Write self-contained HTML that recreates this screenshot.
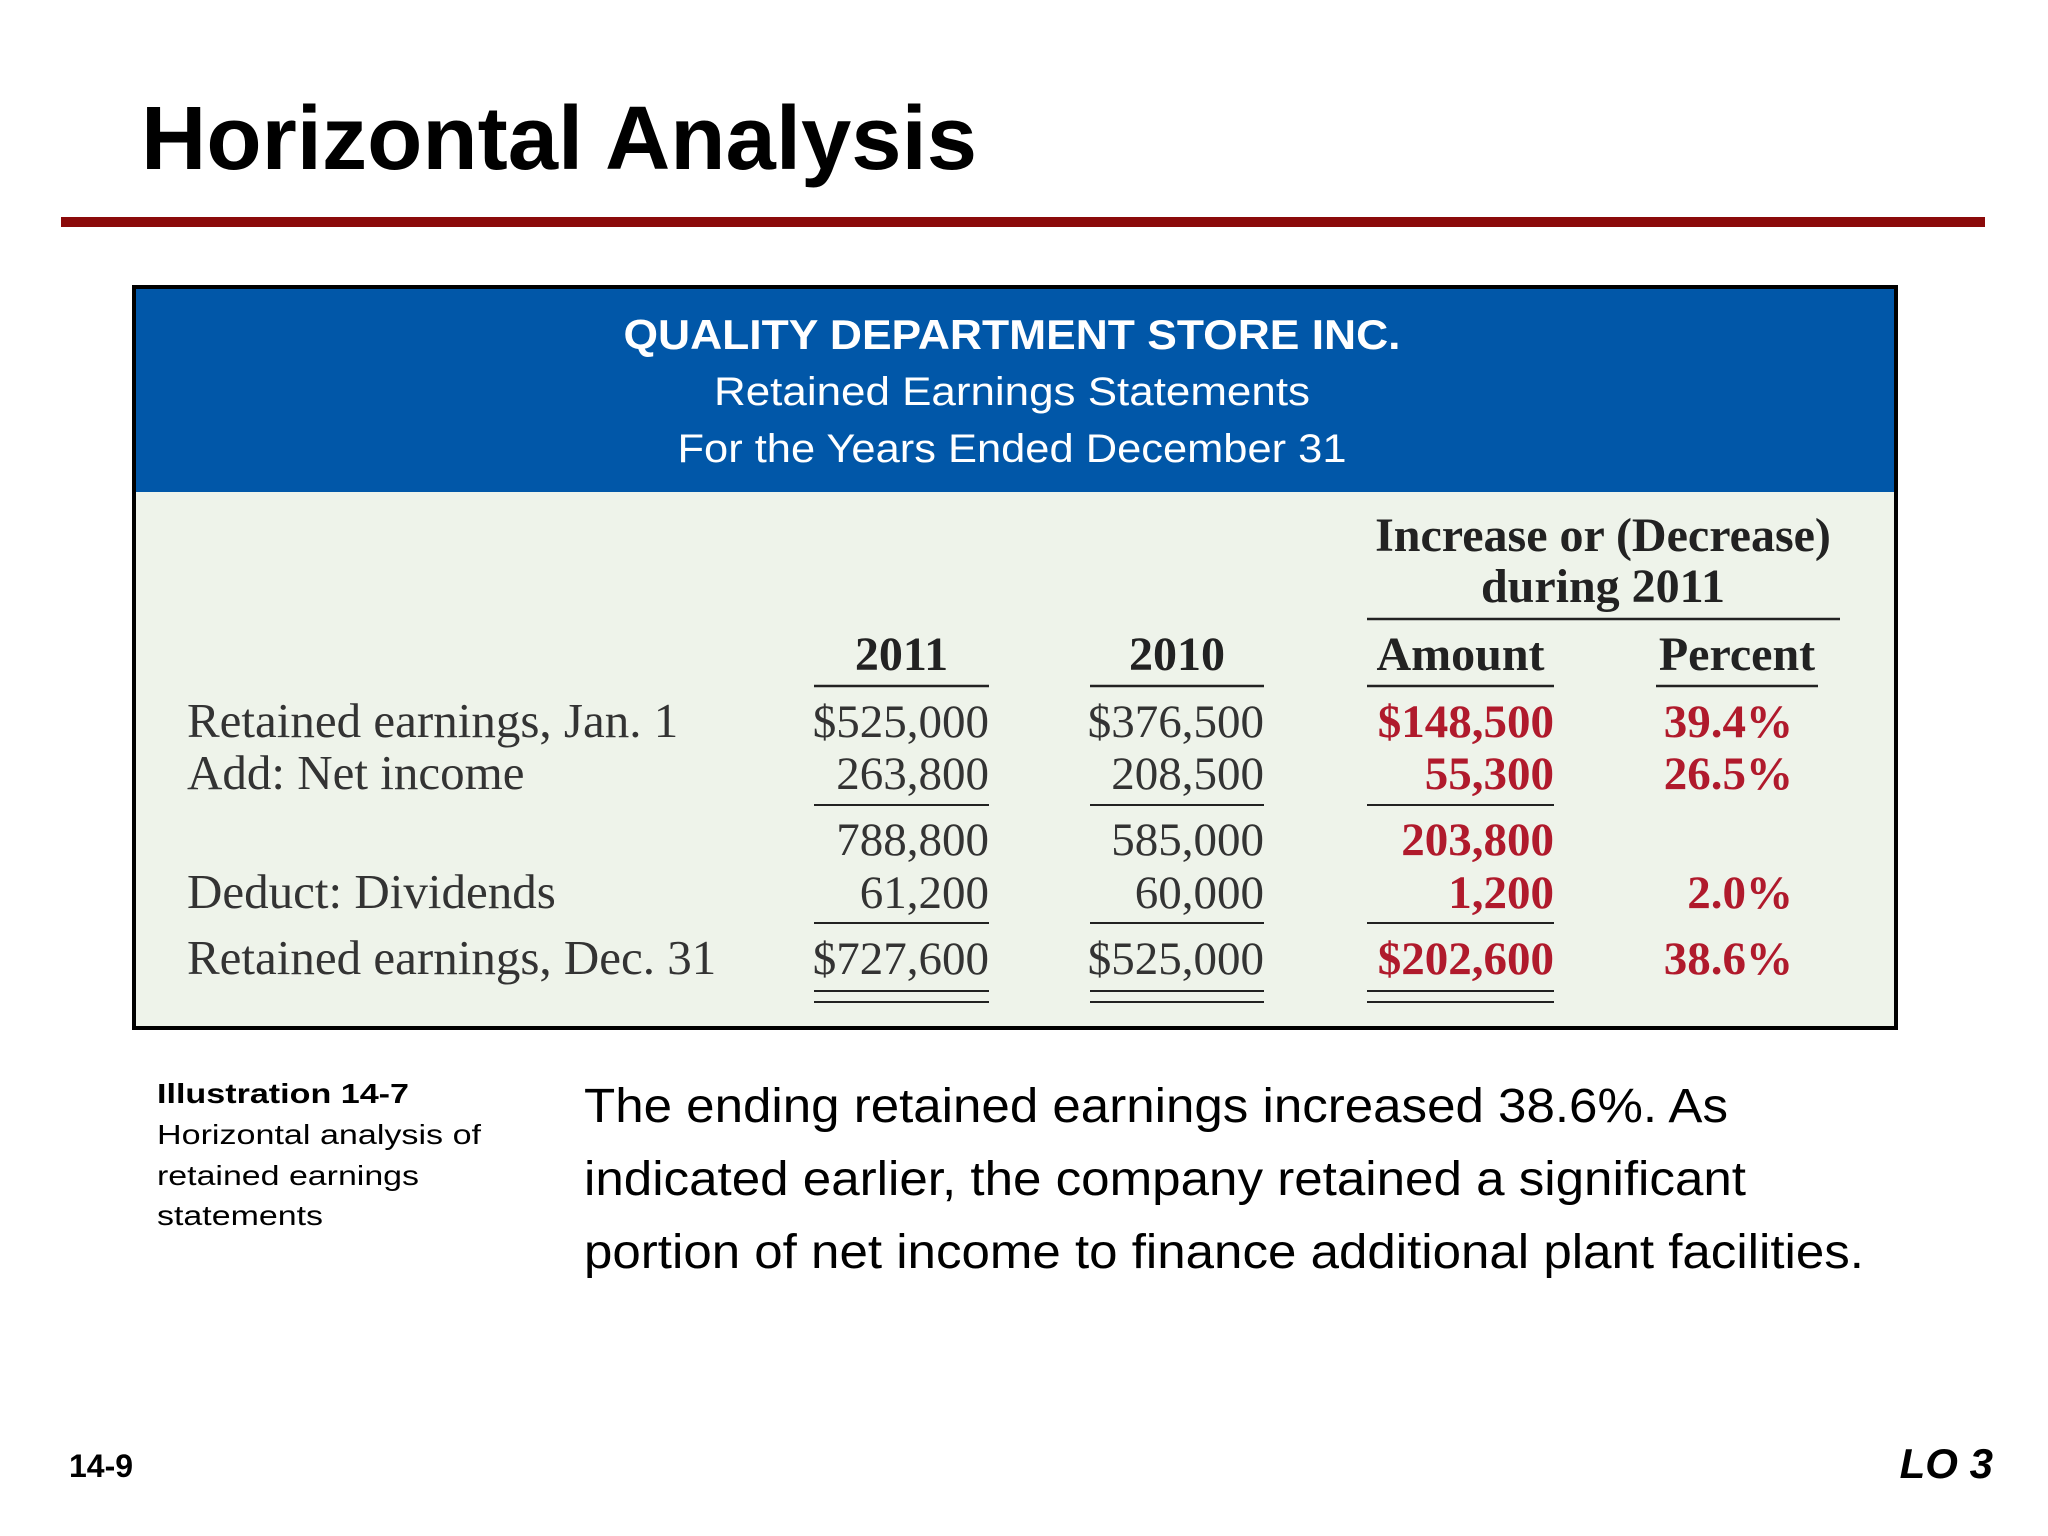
<!DOCTYPE html>
<html><head><meta charset="utf-8"><style>
html,body{margin:0;padding:0;background:#fff;}
svg{display:block;}
</style></head><body>
<svg width="2048" height="1536" viewBox="0 0 2048 1536" xmlns="http://www.w3.org/2000/svg">
<rect width="2048" height="1536" fill="#fff"/>
<text x="141" y="169" font-family="Liberation Sans, sans-serif" font-weight="bold" font-size="90" textLength="836" lengthAdjust="spacingAndGlyphs">Horizontal Analysis</text>
<rect x="61" y="217" width="1924" height="10" fill="#8B0A0A"/>
<g>
<rect x="134" y="287" width="1762" height="741" fill="#EEF3EA" stroke="#000" stroke-width="4"/>
<rect x="136" y="289" width="1758" height="203" fill="#0157A8"/>
<g font-family="Liberation Sans, sans-serif" fill="#fff" text-anchor="middle">
<text x="1012" y="349" font-weight="bold" font-size="42" textLength="777" lengthAdjust="spacingAndGlyphs">QUALITY DEPARTMENT STORE INC.</text>
<text x="1012" y="405" font-size="40" textLength="596" lengthAdjust="spacingAndGlyphs">Retained Earnings Statements</text>
<text x="1012" y="462" font-size="40" textLength="669" lengthAdjust="spacingAndGlyphs">For the Years Ended December 31</text>
</g>
<g id="body" font-family="Liberation Serif, serif" font-size="47"></g>
</g>
<g font-family="Liberation Sans, sans-serif" fill="#000">
<text x="157" y="1103" font-weight="bold" font-size="28" textLength="252" lengthAdjust="spacingAndGlyphs">Illustration 14-7</text>
<text x="157" y="1144" font-size="28" textLength="324" lengthAdjust="spacingAndGlyphs">Horizontal analysis of</text>
<text x="157" y="1185" font-size="28" textLength="262" lengthAdjust="spacingAndGlyphs">retained earnings</text>
<text x="157" y="1225" font-size="28" textLength="166" lengthAdjust="spacingAndGlyphs">statements</text>
<text x="584" y="1122" font-size="48" textLength="1144" lengthAdjust="spacingAndGlyphs">The ending retained earnings increased 38.6%. As</text>
<text x="584" y="1195" font-size="48" textLength="1162" lengthAdjust="spacingAndGlyphs">indicated earlier, the company retained a significant</text>
<text x="584" y="1268" font-size="48" textLength="1280" lengthAdjust="spacingAndGlyphs">portion of net income to finance additional plant facilities.</text>
<text x="69" y="1477" font-weight="bold" font-size="32">14-9</text>
<text x="1993" y="1478" font-weight="bold" font-style="italic" font-size="42" text-anchor="end">LO 3</text>
</g>
</svg>
<script>
const labels = ["Retained earnings, Jan. 1","Add: Net income","","Deduct: Dividends","Retained earnings, Dec. 31"];
const col2011 = ["$525,000","263,800","788,800","61,200","$727,600"];
const col2010 = ["$376,500","208,500","585,000","60,000","$525,000"];
const colAmount = ["$148,500","55,300","203,800","1,200","$202,600"];
const colPercent = ["39.4%","26.5%","","2.0%","38.6%"];
const headers = ["2011","2010","Amount","Percent"];

const NS="http://www.w3.org/2000/svg";
const g=document.getElementById('body');
const rowY=[737,789,855,908,974];
const colRight=[989,1264,1554,1793];
const colSpan=[[814,989],[1090,1264],[1367,1554],[1656,1818]];
const RED="#B01A2C";
function txt(x,y,s,anchor,fill,bold){
  const t=document.createElementNS(NS,'text');
  t.setAttribute('x',x);t.setAttribute('y',y);t.textContent=s;
  t.setAttribute('text-anchor',anchor);t.setAttribute('fill',fill);
  if(bold)t.setAttribute('font-weight','bold');
  g.appendChild(t);return t;
}
function line(x1,x2,y,w){
  const l=document.createElementNS(NS,'line');
  l.setAttribute('x1',x1);l.setAttribute('x2',x2);l.setAttribute('y1',y);l.setAttribute('y2',y);
  l.setAttribute('stroke','#222');l.setAttribute('stroke-width',w||2.5);
  g.appendChild(l);return l;
}
let t=txt(1603,551,"Increase or (Decrease)","middle","#222",true);
t.setAttribute('font-size','48');


t=txt(1603,602,"during 2011","middle","#222",true);
t.setAttribute('font-size','48');


let l=line(1367,1840,619);


headers.forEach((h,i)=>{
  const c=(colSpan[i][0]+colSpan[i][1])/2;
  const e=txt(c,670,h,'middle','#222',true);
  e.setAttribute('font-size','48');
  
  
  const u=line(colSpan[i][0],colSpan[i][1],686);
  
  
});
const cols=[col2011,col2010,colAmount,colPercent];
labels.forEach((lab,r)=>{
  if(lab){const e=txt(187,rowY[r],lab,'start','#333',false);
    e.setAttribute('font-size','49');
    
    }
  cols.forEach((c,i)=>{
    if(!c[r])return;
    const red=i>=2;
    const e=txt(colRight[i],rowY[r],c[r],'end',red?RED:'#333',red);
    
    
  });
});
[[805],[923],[991,1002]].forEach(ys=>{
  ys.forEach(y=>{
    for(let i=0;i<3;i++){
      const u=line(colSpan[i][0],colSpan[i][1],y,2);
      
      
    }
  });
});
</script>
</body></html>
